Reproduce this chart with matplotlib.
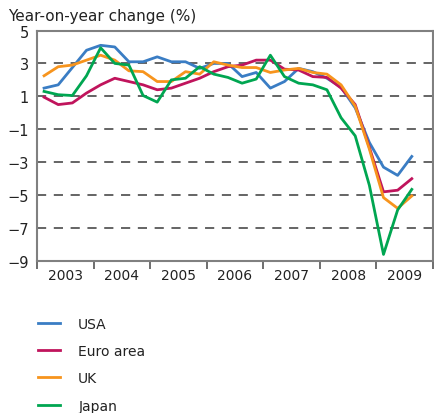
import matplotlib
matplotlib.use("Agg")
import matplotlib.pyplot as plt
import numpy as np

# квартальные данные, 2003 Q1 - 2009 Q3
years = [2003, 2004, 2005, 2006, 2007, 2008, 2009]
usa = [1.5, 1.7, 2.75, 3.8, 4.1, 4.0, 3.1, 3.1, 3.4, 3.1, 3.1, 2.7, 3.0, 3.0,
       2.2, 2.45, 1.5, 1.9, 2.7, 2.5, 2.1, 1.55, 0.3, -1.8, -3.3, -3.8, -2.65]
euro = [0.95, 0.5, 0.6, 1.2, 1.7, 2.1, 1.9, 1.7, 1.4, 1.5, 1.8, 2.1, 2.5, 2.8,
        2.9, 3.2, 3.2, 2.65, 2.6, 2.2, 2.15, 1.5, 0.5, -2.1, -4.8, -4.7, -4.0]
uk = [2.25, 2.8, 2.9, 3.2, 3.5, 3.2, 2.55, 2.5, 1.9, 1.9, 2.5, 2.35, 3.1, 2.9,
      2.75, 2.75, 2.45, 2.6, 2.7, 2.45, 2.35, 1.7, 0.4, -2.2, -5.15, -5.8, -5.05]
japan = [1.3, 1.1, 1.05, 2.25, 3.95, 3.0, 2.9, 1.05, 0.65, 2.0, 2.1, 2.8, 2.35, 2.15,
         1.8, 2.05, 3.5, 2.2, 1.8, 1.7, 1.4, -0.3, -1.4, -4.4, -8.6, -5.9, -4.65]

series = [("USA", usa, "#3a7dc4"), ("Euro area", euro, "#c0145c"),
          ("UK", uk, "#f7941d"), ("Japan", japan, "#00a651")]

# позиции кварталов (середина квартала)
x = years[0] + (np.arange(len(usa)) + 0.5) / 4

fig = plt.figure(figsize=(4.34, 4.14), dpi=100)
ax = fig.add_axes([37 / 434, 1 - 262 / 414, 396 / 434, 230.5 / 414])

for gy in [3, 1, -1, -3, -5, -7]:
    ax.axhline(gy, color="#3a3a3a", lw=1.1, dashes=(6, 5), zorder=1)

for name, vals, col in series:
    ax.plot(x, vals, color=col, lw=2.0, label=name, zorder=3)

ax.set_xlim(2003, 2010)
ax.set_ylim(-9, 5)
ax.set_yticks([5, 3, 1, -1, -3, -5, -7, -9])
ax.tick_params(axis="y", length=0, pad=6, labelsize=10.5, labelcolor="#222222")

ax.set_xticks(range(2003, 2011))
ax.set_xticklabels([])
ax.set_xticks([y + 0.5 for y in years], minor=True)
ax.set_xticklabels([str(y) for y in years], minor=True)
ax.tick_params(axis="x", which="major", direction="out", length=6, width=1.2, color="#555555")
ax.tick_params(axis="x", which="minor", length=0, pad=5, labelsize=10, labelcolor="#222222")

for s in ax.spines.values():
    s.set_color("#808080")
    s.set_linewidth(1.5)

fig.text(8 / 434, 1 - 17 / 414, "Year-on-year change (%)", fontsize=11,
         color="#222222", va="center", ha="left")

fig.legend(loc="upper left", bbox_to_anchor=(31 / 434, 1 - 311 / 414), frameon=False,
           fontsize=10, handlelength=1.6, handletextpad=1.3, labelspacing=0.95,
           borderpad=0, labelcolor="#222222")

fig.savefig("out.png", dpi=100)
